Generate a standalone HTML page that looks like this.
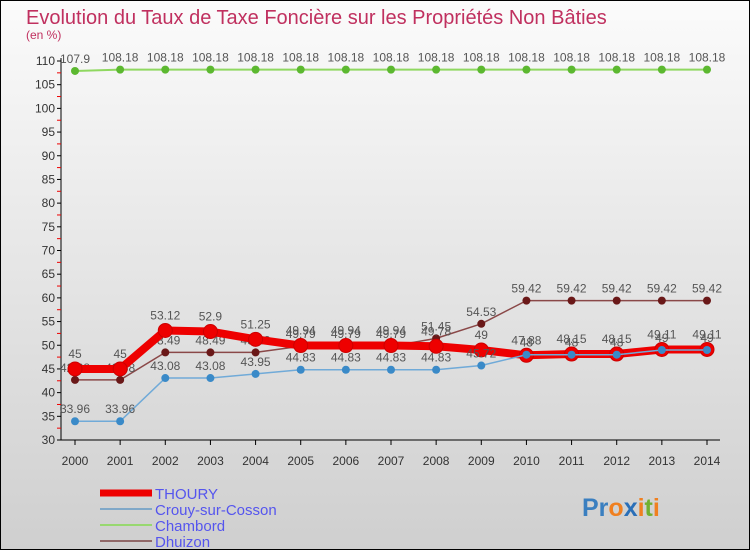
<!DOCTYPE html>
<html><head><meta charset="utf-8"><style>
body{margin:0;}
svg{display:block;font-family:"Liberation Sans",sans-serif;}
</style></head><body>
<svg id="c" width="750" height="550" viewBox="0 0 750 550">
<defs><linearGradient id="bg" x1="0" y1="0" x2="0" y2="1"><stop offset="0" stop-color="#fbfbfb"/><stop offset="1" stop-color="#cfcfcf"/></linearGradient></defs>
<rect x="0.5" y="0.5" width="749" height="549" fill="url(#bg)" stroke="#000"/>
<text x="26" y="24" font-size="20" fill="#c0305f">Evolution du Taux de Taxe Foncière sur les Propriétés Non Bâties</text>
<text x="26" y="39" font-size="12" fill="#c0305f">(en %)</text>
<g id="axes"></g>
<g id="series"></g>
<g id="legend"></g>
<text x="582" y="516" font-size="25" font-weight="bold"><tspan fill="#3a7fc0">Pr</tspan><tspan fill="#f08020">o</tspan><tspan fill="#2a6fb8">x</tspan><tspan fill="#f08020">i</tspan><tspan fill="#70b030">t</tspan><tspan fill="#f08020">i</tspan></text>
</svg>
<script>
const years=[2000,2001,2002,2003,2004,2005,2006,2007,2008,2009,2010,2011,2012,2013,2014];
const thoury=[45,45,53.12,52.9,51.25,49.94,49.94,49.94,49.78,49,47.88,48.15,48.15,49.11,49.11];
const crouy=[33.96,33.96,43.08,43.08,43.95,44.83,44.83,44.83,44.83,45.72,48,48,48,49,49];
const chambord=[107.9,108.18,108.18,108.18,108.18,108.18,108.18,108.18,108.18,108.18,108.18,108.18,108.18,108.18,108.18];
const dhuizon=[42.68,42.68,48.49,48.49,48.49,49.79,49.79,49.79,51.45,54.53,59.42,59.42,59.42,59.42,59.42];
const yTicks=[30,35,40,45,50,55,60,65,70,75,80,85,90,95,100,105,110];
const NS="http://www.w3.org/2000/svg";
const X=i=>75+i*(707-75)/(years.length-1);
const Y=v=>440-(v-30)*(440-61)/80;
function mk(p,t,a){const e=document.createElementNS(NS,t);for(const k in a)e.setAttribute(k,a[k]);p.appendChild(e);return e;}
const ax=document.getElementById('axes');
let l=mk(ax,'line',{x1:61,y1:58,x2:61,y2:440,stroke:'#000'});


l=mk(ax,'line',{x1:61,y1:440,x2:720,y2:440,stroke:'#000'});


yTicks.forEach(v=>{
 mk(ax,'line',{x1:57,y1:Y(v),x2:61,y2:Y(v),stroke:'#000'});
 if(v<110) mk(ax,'line',{x1:57,y1:Y(v+2.5),x2:61,y2:Y(v+2.5),stroke:'#e00'});
 const t=mk(ax,'text',{x:55,y:Y(v)+4,'font-size':12,'text-anchor':'end',fill:'#333'});
 t.textContent=v;
 
 
});
years.forEach((y,i)=>{
 mk(ax,'line',{x1:X(i),y1:440,x2:X(i),y2:445,stroke:'#000'});
 const t=mk(ax,'text',{x:X(i),y:465,'font-size':12,'text-anchor':'middle',fill:'#333'});
 t.textContent=y;
 
 
});
const sg=document.getElementById('series');
const defs=[
 {name:'chambord',data:chambord,c:'#8fd860',w:2,r:4,f:'#5cb830'},
 {name:'dhuizon',data:dhuizon,c:'#8a4848',w:1.5,r:4,f:'#6a1818'},
 {name:'thoury',data:thoury,c:'#ee0000',w:8,r:7,f:'#ee0000'},
 {name:'crouy',data:crouy,c:'#70aad8',w:1.5,r:4,f:'#3a8ac8'}
];
defs.forEach(s=>{
 const g=mk(sg,'g',{});
 
 
 const pl=mk(g,'polyline',{points:s.data.map((v,i)=>X(i)+','+Y(v)).join(' '),fill:'none',stroke:s.c,'stroke-width':s.w,'stroke-linejoin':'round'});
 
 
 s.data.forEach((v,i)=>{
  const c=mk(g,'circle',{cx:X(i),cy:Y(v),r:s.r,fill:s.f,stroke:s.name==='thoury'?'#c00':'none'});
  
  
  const t=mk(g,'text',{x:X(i),y:Y(v)-8-(s.name==='thoury'?3:0),'font-size':12,'text-anchor':'middle',fill:'#555'});
  t.textContent=v;
  
  
 });
});
const lg=document.getElementById('legend');
[['THOURY','#ee0000',7],['Crouy-sur-Cosson','#80a8c8',2],['Chambord','#98d870',2],['Dhuizon','#906868',2]].forEach((e,i)=>{
 const y=493+i*16;
 const g=mk(lg,'g',{});
 
 
 mk(g,'line',{x1:100,y1:y,x2:152,y2:y,stroke:e[1],'stroke-width':e[2]});
 const t=mk(g,'text',{x:155,y:y+6,'font-size':15,fill:'#5555ee'});
 t.textContent=e[0];
});
</script>
</body></html>
